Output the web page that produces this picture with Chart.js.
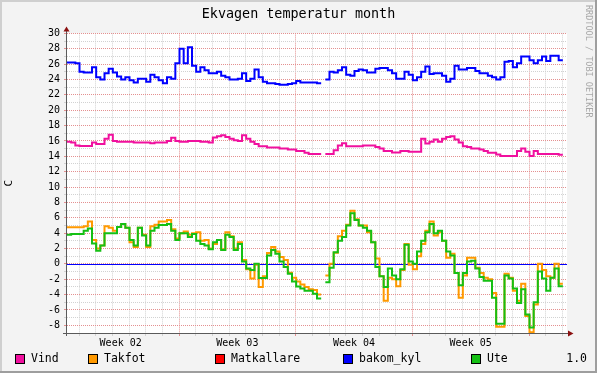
<!DOCTYPE html>
<html>
<head>
<meta charset="utf-8">
<script src="https://cdn.jsdelivr.net/npm/chart.js@4.4.0/dist/chart.umd.min.js"></script>
<style>
  html, body { margin: 0; padding: 0; background: #f3f3f3; }
  canvas { display: block; }
</style>
</head>
<body>
<canvas id="graph" width="597" height="373"></canvas>
<script>
// Sample spacing: one value every 6 hours, x in days from the left edge of the graph
const STEP = 0.25;
const X_MAX = 30;
const Y_MIN = -9;
const Y_MAX = 30;

// Week boundaries (Monday 00:00) and week labels
const weekStarts = [6.72, 13.72, 20.72, 27.72];
const weekLabels = ['Week 02', 'Week 03', 'Week 04', 'Week 05'];
const FIRST_MIDNIGHT = 0.72;

// Series (degrees C), null = no data
const vind = [
  15.9, 15.8, 15.4, 15.35, 15.35, 15.35, 15.8, 15.6, 15.6, 16.3,
  16.8, 16.0, 15.9, 15.9, 15.9, 15.9, 15.8, 15.8, 15.8, 15.8,
  15.7, 15.8, 15.8, 15.8, 16.0, 16.4, 16.0, 15.9, 15.9, 16.0,
  16.0, 16.0, 15.9, 15.9, 15.8, 16.45, 16.6, 16.75, 16.5, 16.3,
  16.1, 16.0, 16.75, 16.3, 15.9, 15.6, 15.3, 15.3, 15.15, 15.15,
  15.15, 15.0, 15.0, 14.9, 14.9, 14.7, 14.7, 14.45, 14.3, 14.3,
  14.3, null, 14.3, 14.3, 14.8, 15.4, 15.7, 15.3, 15.3, 15.3,
  15.3, 15.4, 15.4, 15.4, 15.2, 15.0, 14.7, 14.7, 14.5, 14.5,
  14.7, 14.7, 14.6, 14.6, 14.6, 16.3, 15.65, 15.9, 16.2, 15.9,
  16.3, 16.5, 16.6, 16.2, 15.8, 15.3, 15.2, 15.0, 15.0, 14.9,
  14.7, 14.45, 14.45, 14.25, 14.05, 14.05, 14.05, 14.05, 14.7, 15.0,
  14.6, 14.05, 14.7, 14.3, 14.3, 14.3, 14.3, 14.3, 14.2, 14.2
];

const takfot = [
  4.75, 4.75, 4.75, 4.75, 4.9, 5.5, 3.1, 2.0, 2.4, 4.9,
  4.7, 4.3, 4.8, 5.2, 4.7, 2.8, 2.2, 4.7, 3.8, 2.2,
  4.9, 5.1, 5.5, 5.5, 5.7, 4.5, 3.3, 4.0, 4.2, 3.8,
  4.0, 4.1, 3.0, 3.1, 2.0, 2.6, 3.1, 1.9, 4.1, 3.6,
  2.0, 2.8, 0.5, -0.7, -1.9, -0.1, -3.0, -1.6, 1.4, 2.2,
  1.6, 0.9, 0.5, -1.15, -1.8, -2.3, -2.7, -3.0, -3.3, -3.4,
  -4.0, null, -1.5, 0.0, 1.45, 3.6, 4.3, 5.1, 6.9, 5.8,
  5.0, 5.0, 4.1, 2.8, 0.7, -1.6, -4.8, -1.8, -2.0, -2.9,
  -0.8, 2.6, -0.1, -0.7, 1.0, 2.6, 4.3, 5.5, 3.7, 4.1,
  3.0, 0.8, 1.3, -1.2, -4.4, -1.5, 0.8, 0.8, -0.5, -1.2,
  -1.8, -2.0, -3.8, -8.2, -8.2, -1.3, -1.8, -3.5, -4.8, -2.6,
  -6.8, -8.9, -5.3, 0.0, -0.8, -1.6, -1.8, 0.0, -2.6, -2.6
];

const matkallare = []; // no data in this period

const bakomKyl = [
  26.2, 26.2, 26.1, 25.0, 24.9, 24.9, 25.6, 24.3, 24.0, 24.8,
  25.4, 24.9, 24.4, 24.0, 24.3, 23.9, 23.6, 24.1, 24.1, 23.7,
  24.6, 24.3, 23.9, 23.5, 24.3, 24.1, 26.1, 28.0, 26.1, 28.2,
  25.8, 25.0, 25.6, 25.2, 24.8, 24.8, 25.0, 24.5, 24.3, 24.0,
  24.0, 24.1, 24.8, 23.8, 24.1, 25.3, 24.3, 23.7, 23.5, 23.5,
  23.4, 23.3, 23.3, 23.4, 23.5, 23.8, 23.6, 23.6, 23.6, 23.6,
  23.5, null, 24.0, 25.0, 24.9, 25.2, 25.6, 24.6, 24.5, 25.1,
  25.3, 25.2, 24.9, 24.9, 25.4, 25.5, 25.5, 25.2, 24.8, 24.1,
  24.1, 25.0, 24.6, 23.9, 24.3, 25.0, 25.7, 24.7, 24.8, 24.8,
  24.5, 23.7, 24.1, 25.8, 25.3, 25.3, 25.5, 25.5, 25.1, 24.8,
  24.8, 24.5, 24.3, 24.0, 24.3, 26.3, 26.4, 25.6, 26.1, 27.0,
  27.0, 26.5, 26.1, 26.5, 27.0, 26.4, 27.1, 27.1, 26.5, 26.5
];

const ute = [
  3.8, 3.9, 3.9, 3.9, 4.3, 4.6, 2.65, 1.7, 2.4, 4.0,
  4.0, 4.0, 4.8, 5.2, 4.7, 3.1, 2.4, 4.7, 3.7, 2.4,
  4.3, 4.7, 5.05, 5.05, 5.2, 4.3, 3.1, 4.0, 4.0, 3.5,
  3.9, 3.0, 2.6, 2.4, 1.9, 2.8, 3.1, 1.8, 3.8, 3.5,
  1.8, 2.6, 0.3, -0.6, -0.8, 0.0, -1.85, -1.85, 1.1, 1.8,
  1.3, 0.3, -0.4, -1.3, -2.3, -2.95, -3.2, -3.5, -3.5, -3.9,
  -4.5, null, -2.4, -0.5, 1.5, 3.0, 3.5, 5.0, 6.6, 5.7,
  5.0, 4.7, 4.3, 2.8, -0.4, -1.6, -3.0, -0.6, -1.5, -2.0,
  -0.7, 2.5, 0.3, 0.0, 1.6, 3.0, 4.1, 5.2, 4.0, 4.3,
  3.0, 1.6, 1.1, -1.2, -2.8, -1.2, 0.3, 0.4, -0.6, -1.7,
  -2.2, -2.2, -4.4, -7.8, -7.8, -1.5, -1.9, -3.2, -5.1, -3.3,
  -6.6, -8.3, -5.0, -1.0, -1.9, -3.5, -1.8, -0.6, -2.9, -2.9
];

const legendNames = ['Vind', 'Takfot', 'Matkallare', 'bakom_kyl', 'Ute'];
const legendColors = ['#f0109e', '#ff9900', '#ff0000', '#0000ff', '#14c014'];

const FONT = 'DejaVu Sans Mono';
const MINOR = '#d2d2d2';
const MAJOR = '#e49090';

// gap-aware stepped series: a null hides the step that follows it
function series(label, values, color, order) {
  let last = null;
  const pts = values.map((v, i) => {
    if (v !== null) last = v;
    return { x: i * STEP, y: v === null ? last : v };
  });
  return {
    label: label,
    data: pts,
    borderColor: color,
    borderWidth: 2,
    pointRadius: 0,
    stepped: true,
    fill: false,
    order: order,
    borderJoinStyle: 'miter',
    segment: {
      borderColor: c => values[c.p0DataIndex] === null ? 'rgba(0,0,0,0)' : undefined
    }
  };
}

const dayTicks = [];
for (let d = FIRST_MIDNIGHT; d < X_MAX; d += 1) dayTicks.push(+d.toFixed(2));
const isWeekStart = v => weekStarts.some(w => Math.abs(w - v) < 0.01);

const rrdFrame = {
  id: 'rrdFrame',
  beforeDraw(chart) {
    const { ctx, chartArea: a, width, height } = chart;
    ctx.save();
    ctx.fillStyle = '#f3f3f3';
    ctx.fillRect(0, 0, width, height);
    ctx.fillStyle = '#ffffff';
    ctx.fillRect(a.left, a.top, a.right - a.left, a.bottom - a.top);
    ctx.fillStyle = '#cfcfcf';
    ctx.fillRect(0, 0, width, 2);
    ctx.fillRect(0, 0, 2, height);
    ctx.fillStyle = '#9e9e9e';
    ctx.fillRect(0, height - 2, width, 2);
    ctx.fillRect(width - 2, 0, 2, height);
    ctx.restore();
  },
  beforeDatasetsDraw(chart) {
    // HRULE at 0
    const { ctx, chartArea: a } = chart;
    const y = Math.round(chart.scales.y.getPixelForValue(0)) + 0.5;
    ctx.save();
    ctx.strokeStyle = '#0000ff';
    ctx.lineWidth = 1;
    ctx.beginPath();
    ctx.moveTo(a.left, y);
    ctx.lineTo(a.right, y);
    ctx.stroke();
    ctx.restore();
  },
  afterDraw(chart) {
    const { ctx, chartArea: a, width } = chart;
    ctx.save();
    // axes
    ctx.strokeStyle = '#5a5a5a';
    ctx.lineWidth = 1;
    ctx.beginPath();
    ctx.moveTo(a.left - 0.5, a.bottom + 3);
    ctx.lineTo(a.left - 0.5, a.top - 3);
    ctx.moveTo(a.left - 4, a.bottom + 0.5);
    ctx.lineTo(a.right + 2, a.bottom + 0.5);
    ctx.stroke();
    // arrows
    ctx.fillStyle = '#8b1010';
    ctx.beginPath();
    ctx.moveTo(a.left - 3.5, a.top - 2);
    ctx.lineTo(a.left + 2.5, a.top - 2);
    ctx.lineTo(a.left - 0.5, a.top - 7);
    ctx.closePath();
    ctx.fill();
    ctx.beginPath();
    ctx.moveTo(a.right + 1, a.bottom - 2.5);
    ctx.lineTo(a.right + 1, a.bottom + 3.5);
    ctx.lineTo(a.right + 6.5, a.bottom + 0.5);
    ctx.closePath();
    ctx.fill();

    // legend
    const boxX = [15, 88, 215, 343, 471];
    ctx.font = '11.5px "' + FONT + '"';
    ctx.textBaseline = 'middle';
    ctx.textAlign = 'left';
    legendNames.forEach((name, i) => {
      ctx.fillStyle = legendColors[i];
      ctx.fillRect(boxX[i], 354, 10, 10);
      ctx.strokeStyle = '#000';
      ctx.strokeRect(boxX[i] + 0.5, 354.5, 9, 9);
      ctx.fillStyle = '#000';
      ctx.fillText(name, boxX[i] + 16, 359);
    });
    ctx.textAlign = 'right';
    ctx.fillText('1.0', 587, 359);

    // watermark
    ctx.translate(width - 9, 5);
    ctx.rotate(Math.PI / 2);
    ctx.font = '8.5px "' + FONT + '"';
    ctx.fillStyle = '#a8a8a8';
    ctx.textAlign = 'left';
    ctx.fillText('RRDTOOL / TOBI OETIKER', 0, 0);
    ctx.restore();
  }
};

new Chart(document.getElementById('graph'), {
  type: 'line',
  data: {
    datasets: [
      series('Ute', ute, legendColors[4], 0),
      series('bakom_kyl', bakomKyl, legendColors[3], 1),
      series('Matkallare', matkallare, legendColors[2], 2),
      series('Takfot', takfot, legendColors[1], 3),
      series('Vind', vind, legendColors[0], 4)
    ]
  },
  options: {
    responsive: false,
    animation: false,
    devicePixelRatio: 1,
    layout: { padding: { top: 0, right: 0, bottom: 22, left: 0 } },
    scales: {
      x: {
        type: 'linear',
        position: 'bottom',
        min: 0,
        max: X_MAX,
        weight: 0,
        afterBuildTicks: s => { s.ticks = dayTicks.map(v => ({ value: v })); },
        afterFit: s => { s.height = 4; },
        ticks: { display: false, autoSkip: false },
        grid: {
          color: c => isWeekStart(c.tick.value) ? MAJOR : MINOR,
          tickColor: c => isWeekStart(c.tick.value) ? MAJOR : MINOR,
          lineWidth: 1,
          drawTicks: true,
          tickLength: 3
        },
        border: { display: false, dash: [1, 1] }
      },
      x2: {
        type: 'linear',
        position: 'bottom',
        min: 0,
        max: X_MAX,
        weight: 1,
        afterBuildTicks: s => { s.ticks = weekStarts.map(w => ({ value: w - 3.5 })); },
        afterFit: s => { s.height = 14; },
        ticks: {
          autoSkip: false,
          maxRotation: 0,
          padding: 0,
          color: '#000',
          font: { family: FONT, size: 10 },
          callback: (v, i) => weekLabels[i]
        },
        grid: { display: false, drawTicks: false },
        border: { display: false }
      },
      y: {
        type: 'linear',
        min: Y_MIN,
        max: Y_MAX,
        afterBuildTicks: s => {
          const t = [];
          for (let v = Y_MIN; v <= Y_MAX; v++) t.push({ value: v });
          s.ticks = t;
        },
        afterFit: s => { s.width = 67; },
        ticks: {
          autoSkip: false,
          padding: 4,
          color: '#000',
          font: { family: FONT, size: 10 },
          callback: v => (v % 2 === 0 && v > Y_MIN) ? String(v) : ''
        },
        grid: {
          color: c => c.tick.value % 2 === 0 ? MAJOR : MINOR,
          tickColor: c => c.tick.value % 2 === 0 ? MAJOR : MINOR,
          lineWidth: 1,
          drawTicks: true,
          tickLength: 3
        },
        border: { display: false, dash: [1, 1] },
        title: {
          display: true,
          text: 'C',
          color: '#000',
          font: { family: FONT, size: 11 },
          padding: { top: 3, bottom: 0 }
        }
      },
      // empty right margin (holds the RRDtool watermark)
      yR: {
        type: 'linear',
        position: 'right',
        min: Y_MIN,
        max: Y_MAX,
        afterFit: s => { s.width = 30; },
        ticks: { display: false },
        grid: { display: false, drawTicks: false },
        border: { display: false }
      }
    },
    plugins: {
      legend: { display: false },
      tooltip: { enabled: false },
      title: {
        display: true,
        text: 'Ekvagen temperatur month',
        color: '#000',
        font: { family: FONT, size: 13.4, weight: 'normal' },
        padding: { top: 6, bottom: 11.3 }
      }
    }
  },
  plugins: [rrdFrame]
});
</script>
</body>
</html>
